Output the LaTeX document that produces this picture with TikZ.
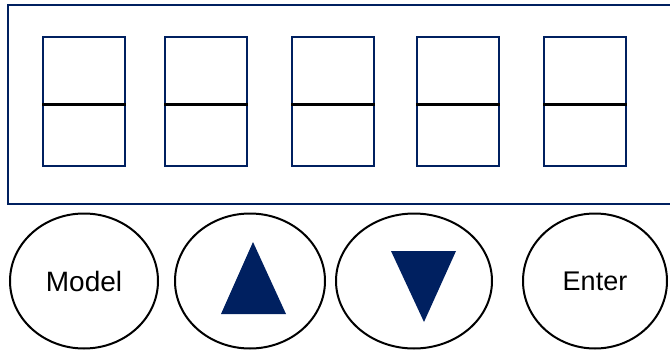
\documentclass[tikz,border=0pt]{standalone}
\usepackage{fontspec}
\setmainfont{Liberation Sans}
\usetikzlibrary{shapes.geometric}
\definecolor{navy}{HTML}{002060}
\tikzset{
  digitbox/.style={draw=navy, line width=2.2pt, minimum width=82pt, minimum height=129pt, inner sep=0pt, anchor=north west},
  button/.style={draw=black, line width=2pt, ellipse, inner sep=0pt, font=\fontsize{28}{30}\selectfont},
  seg/.style={draw=black, line width=2.4pt},
  tri/.style={fill=navy}
}
\begin{document}
\begin{tikzpicture}[x=1pt,y=-1pt]
\useasboundingbox (0,0) rectangle (670,351);
\clip (0,0) rectangle (670,351);
\draw[navy, line width=2.2pt] (8,5) rectangle (690,204);
\node[digitbox] (d1) at (42,36) {};
\node[digitbox] (d2) at (164,36) {};
\node[digitbox] (d3) at (291,36) {};
\node[digitbox] (d4) at (416,36) {};
\node[digitbox] (d5) at (543,36) {};
\foreach \i in {1,...,5}{\draw[seg] ([yshift=-3pt]d\i.west) -- ([yshift=-3pt]d\i.east);}
\node[button, minimum width=148pt, minimum height=135pt] (model) at (84,281) {Model};
\node[button, minimum width=150pt, minimum height=135pt] (up) at (250,281) {};
\node[button, minimum width=156pt, minimum height=135pt] (down) at (414,281) {};
\node[button, minimum width=144pt, minimum height=135pt] (enter) at (595,281) {\fontsize{27}{28}\selectfont Enter};
\fill[tri] (253,242) -- (286,314) -- (221,314) -- cycle;
\fill[tri] (391,251) -- (456,251) -- (424,322) -- cycle;
\end{tikzpicture}
\end{document}
